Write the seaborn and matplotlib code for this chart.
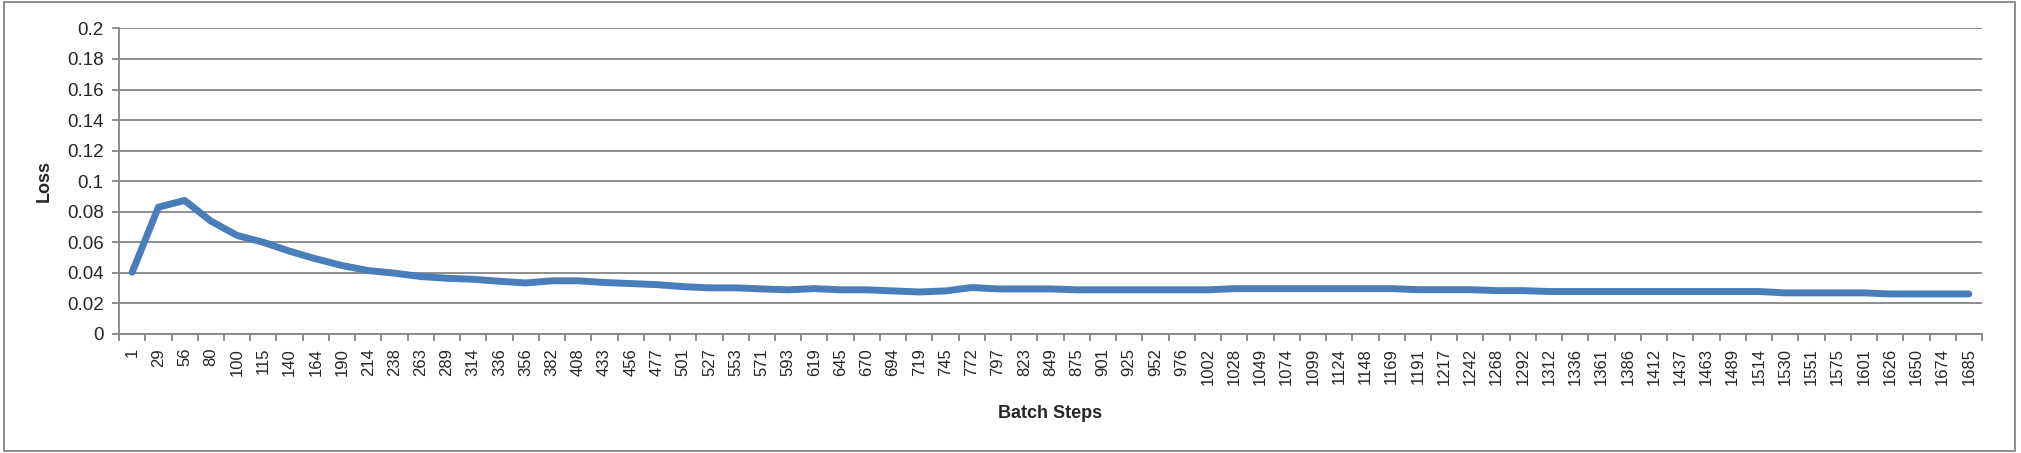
import matplotlib
matplotlib.use("Agg")
import matplotlib.pyplot as plt
import matplotlib.ticker as mticker
from matplotlib.patches import Rectangle
import numpy as np
import pandas as pd
import seaborn as sns

# Batch step labels along the x axis
steps = [1, 29, 56, 80, 100, 115, 140, 164, 190, 214, 238, 263, 289, 314, 336,
         356, 382, 408, 433, 456, 477, 501, 527, 553, 571, 593, 619, 645, 670,
         694, 719, 745, 772, 797, 823, 849, 875, 901, 925, 952, 976, 1002, 1028,
         1049, 1074, 1099, 1124, 1148, 1169, 1191, 1217, 1242, 1268, 1292, 1312,
         1336, 1361, 1386, 1412, 1437, 1463, 1489, 1514, 1530, 1551, 1575, 1601,
         1626, 1650, 1674, 1685]

# Loss values
loss = [0.0404, 0.0830, 0.0874, 0.0739, 0.0645, 0.0600, 0.0542, 0.0492, 0.0448,
        0.0415, 0.0398, 0.0376, 0.0365, 0.0358, 0.0345, 0.0334, 0.0348, 0.0348,
        0.0337, 0.0330, 0.0323, 0.0310, 0.0302, 0.0302, 0.0295, 0.0289, 0.0297,
        0.0289, 0.0289, 0.0282, 0.0275, 0.0282, 0.0304, 0.0295, 0.0295, 0.0295,
        0.0289, 0.0289, 0.0289, 0.0289, 0.0289, 0.0289, 0.0297, 0.0297, 0.0297,
        0.0297, 0.0297, 0.0297, 0.0297, 0.0290, 0.0290, 0.0290, 0.0284, 0.0284,
        0.0278, 0.0278, 0.0278, 0.0278, 0.0278, 0.0278, 0.0278, 0.0278, 0.0278,
        0.0269, 0.0269, 0.0269, 0.0269, 0.0262, 0.0262, 0.0262, 0.0262]

y_ticks = [0, 0.02, 0.04, 0.06, 0.08, 0.1, 0.12, 0.14, 0.16, 0.18, 0.2]

df = pd.DataFrame({"Batch Steps": [str(s) for s in steps], "Loss": loss})

sns.set_style("white")
plt.rcParams["font.family"] = ["Liberation Sans", "DejaVu Sans"]

grey = "#868686"
fig = plt.figure(figsize=(20.21, 4.53), dpi=100)
ax = fig.add_axes([0.0589, 0.2627, 0.9218, 0.6746])

sns.lineplot(data=df, x="Batch Steps", y="Loss", ax=ax, color="#4A7EBB",
             linewidth=5, solid_capstyle="round", solid_joinstyle="round")

n = len(steps)
ax.set_xlim(-0.5, n - 0.5)
ax.set_ylim(0, 0.2)
ax.set_yticks(y_ticks)
ax.yaxis.set_major_formatter(mticker.FuncFormatter(lambda v, p: f"{round(v, 2):g}"))
ax.set_xticks(range(n))
ax.set_xticklabels([str(s) for s in steps], rotation=90)
ax.xaxis.set_minor_locator(mticker.FixedLocator(np.arange(-0.5, n, 1.0)))

# horizontal gridlines
ax.grid(axis="y", color=grey, linewidth=1.3)
ax.set_axisbelow(True)

for side in ["top", "right"]:
    ax.spines[side].set_visible(False)
for side in ["left", "bottom"]:
    ax.spines[side].set_color(grey)
    ax.spines[side].set_linewidth(1.3)

ax.tick_params(axis="x", which="major", length=0, pad=10, labelsize=12)
ax.tick_params(axis="x", which="minor", length=5, width=1.3, color=grey, direction="out", bottom=True)
ax.tick_params(axis="y", which="major", length=5, width=1.3, color=grey, direction="out",
               left=True, pad=6, labelsize=13.5)

ax.set_xlabel("Batch Steps", fontsize=13, fontweight="bold", labelpad=14)
ax.set_ylabel("Loss", fontsize=13, fontweight="bold", labelpad=10)

# outer chart border
fig.add_artist(Rectangle((0.002, 0.005), 0.995, 0.99, transform=fig.transFigure,
                         fill=False, edgecolor=grey, linewidth=1.3))

fig.savefig("out.png", dpi=100)
